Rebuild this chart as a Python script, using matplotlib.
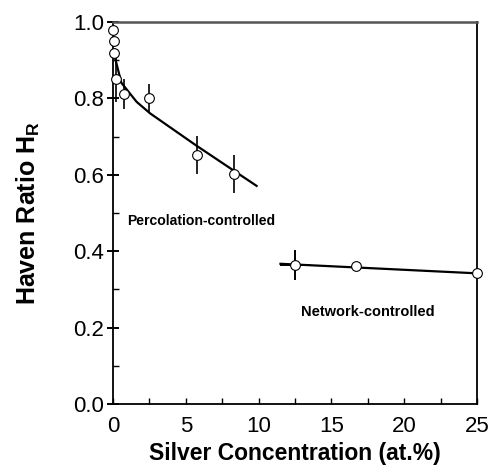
import matplotlib
matplotlib.use("Agg")
import matplotlib.pyplot as plt
from matplotlib.ticker import MultipleLocator, FormatStrFormatter

plt.rcParams["font.family"] = ["Liberation Sans", "DejaVu Sans"]

# measured Haven ratios (percolation regime)
perc_x = [0.0, 0.05, 0.05, 0.18, 0.78, 2.47, 5.77, 8.28]
perc_y = [0.98, 0.951, 0.92, 0.85, 0.811, 0.801, 0.652, 0.602]
perc_err = [0.0, 0.0, 0.0, 0.06, 0.04, 0.037, 0.05, 0.049]

# measured Haven ratios (network regime)
net_x = [12.5, 16.7, 25.0]
net_y = [0.364, 0.362, 0.342]
net_yerr = [0.04, 0.0, 0.0]
net_xerr = [1.0, 0.0, 0.0]

# guide curves
perc_fit_x = [0.0, 0.14, 0.57, 1.62, 2.54, 5.74, 9.86]
perc_fit_y = [0.92, 0.906, 0.841, 0.791, 0.761, 0.676, 0.571]
net_fit_x = [11.5, 25.0]
net_fit_y = [0.367, 0.342]

fig = plt.figure(figsize=(4.88, 4.68), dpi=100)
ax = fig.add_axes([0.2316, 0.1368, 0.7459, 0.8162])

ax.plot(perc_fit_x, perc_fit_y, color="black", lw=1.6, zorder=2)
ax.plot(net_fit_x, net_fit_y, color="black", lw=1.6, zorder=2)

ax.errorbar(perc_x, perc_y, yerr=perc_err, fmt="o", ms=7, mfc="white",
            mec="black", mew=0.8, ecolor="black", elinewidth=1.2,
            capsize=0, zorder=3, clip_on=False)
ax.errorbar(net_x, net_y, yerr=net_yerr, xerr=net_xerr, fmt="o", ms=7,
            mfc="white", mec="black", mew=0.8, ecolor="black",
            elinewidth=1.4, capsize=0, zorder=3, clip_on=False)

ax.text(0.95, 0.48, "Percolation-controlled", fontsize=10.1,
        fontweight="bold", ha="left", va="center")
ax.text(17.5, 0.24, "Network-controlled", fontsize=10.5,
        fontweight="bold", ha="center", va="center")

ax.set_xlim(0, 25)
ax.set_ylim(0, 1.0)
ax.xaxis.set_major_locator(MultipleLocator(5))
ax.xaxis.set_minor_locator(MultipleLocator(2.5))
ax.yaxis.set_major_locator(MultipleLocator(0.2))
ax.yaxis.set_minor_locator(MultipleLocator(0.1))
ax.yaxis.set_major_formatter(FormatStrFormatter("%.1f"))

ax.tick_params(axis="x", which="both", direction="in", length=4, width=1,
               labelsize=16, pad=9)
ax.tick_params(axis="y", which="major", direction="inout", length=9, width=1.4,
               labelsize=16, pad=2)
ax.tick_params(axis="y", which="minor", direction="in", length=4, width=1)

for side in ("left", "bottom", "right"):
    ax.spines[side].set_linewidth(1.3)
ax.spines["top"].set_color("#555555")
ax.spines["top"].set_linewidth(1.8)

ax.set_xlabel("Silver Concentration (at.%)", fontsize=16.5, fontweight="bold",
              labelpad=3)
ax.set_ylabel("Haven Ratio H$_\\mathregular{R}$", fontsize=18,
              fontweight="bold", labelpad=22)

fig.savefig("out.png", dpi=100)
